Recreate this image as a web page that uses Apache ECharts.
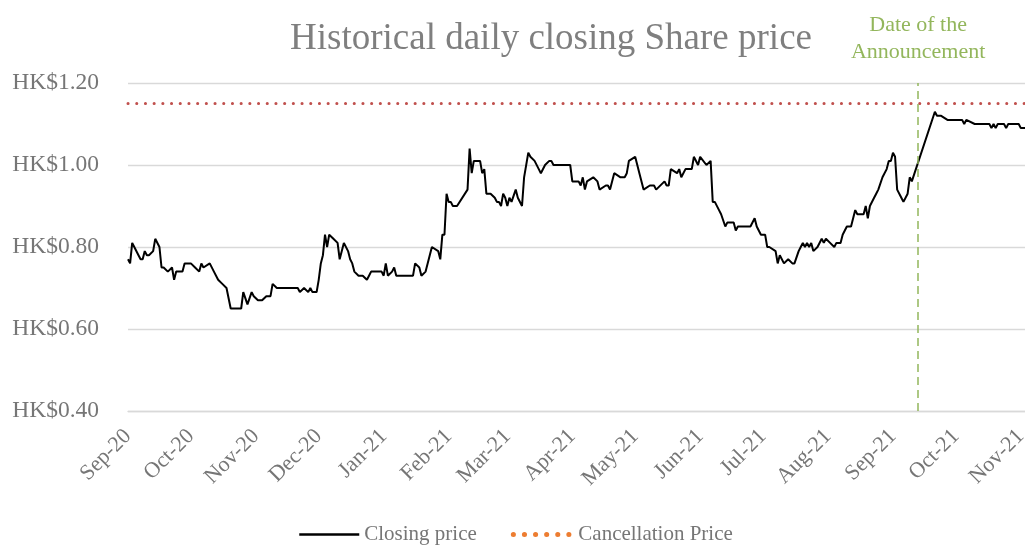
<!DOCTYPE html>
<html>
<head>
<meta charset="utf-8">
<script src="https://cdn.jsdelivr.net/npm/echarts@6/dist/echarts.min.js"></script>
<style>
html,body{margin:0;padding:0;background:#fff;}
#chart{width:1025px;height:545px;}
</style>
</head>
<body>
<div id="chart"></div>
<script>
// ---- data ----
const dates = [
'2020-09-01','2020-09-02','2020-09-03','2020-09-04','2020-09-06','2020-09-07','2020-09-08','2020-09-09','2020-09-10','2020-09-11',
'2020-09-13','2020-09-14','2020-09-16','2020-09-17','2020-09-18','2020-09-20','2020-09-22','2020-09-23','2020-09-24','2020-09-27',
'2020-09-28','2020-10-01','2020-10-03','2020-10-05','2020-10-06','2020-10-07','2020-10-10','2020-10-12','2020-10-14','2020-10-16',
'2020-10-18','2020-10-20','2020-10-25','2020-10-26','2020-10-28','2020-10-30','2020-10-31','2020-11-02','2020-11-04','2020-11-06',
'2020-11-08','2020-11-09','2020-11-11','2020-11-21','2020-11-22','2020-11-24','2020-11-26','2020-11-27','2020-11-28','2020-11-30',
'2020-12-01','2020-12-02','2020-12-03','2020-12-04','2020-12-05','2020-12-06','2020-12-08','2020-12-10','2020-12-11','2020-12-13',
'2020-12-15','2020-12-16','2020-12-17','2020-12-18','2020-12-20','2020-12-22','2020-12-24','2020-12-25','2020-12-26','2020-12-31',
'2021-01-01','2021-01-02','2021-01-03','2021-01-05','2021-01-06','2021-01-07','2021-01-15','2021-01-16','2021-01-18','2021-01-19',
'2021-01-21','2021-01-24','2021-01-27','2021-01-28','2021-01-29','2021-01-30','2021-01-31','2021-02-01','2021-02-02','2021-02-03',
'2021-02-04','2021-02-05','2021-02-10','2021-02-11','2021-02-12','2021-02-13','2021-02-16','2021-02-17','2021-02-18','2021-02-19',
'2021-02-21','2021-02-23','2021-02-24','2021-02-25','2021-02-26','2021-02-27','2021-02-28','2021-03-01','2021-03-02','2021-03-03',
'2021-03-05','2021-03-06','2021-03-08','2021-03-09','2021-03-11','2021-03-12','2021-03-14','2021-03-16','2021-03-17','2021-03-19',
'2021-03-21','2021-03-22','2021-03-23','2021-03-31','2021-04-01','2021-04-03','2021-04-04','2021-04-05','2021-04-06','2021-04-07',
'2021-04-08','2021-04-11','2021-04-13','2021-04-14','2021-04-17','2021-04-18','2021-04-19','2021-04-21','2021-04-24','2021-04-26',
'2021-04-27','2021-04-28','2021-05-01','2021-05-02','2021-05-03','2021-05-05','2021-05-08','2021-05-10','2021-05-11','2021-05-15',
'2021-05-16','2021-05-17','2021-05-18','2021-05-21','2021-05-22','2021-05-23','2021-05-25','2021-05-28','2021-05-29','2021-05-31',
'2021-06-01','2021-06-04','2021-06-06','2021-06-07','2021-06-08','2021-06-10','2021-06-11','2021-06-13','2021-06-14','2021-06-17',
'2021-06-18','2021-06-19','2021-06-25','2021-06-27','2021-06-28','2021-06-30','2021-07-02','2021-07-03','2021-07-04','2021-07-07',
'2021-07-08','2021-07-09','2021-07-11','2021-07-13','2021-07-15','2021-07-16','2021-07-18','2021-07-19','2021-07-20','2021-07-21',
'2021-07-22','2021-07-23','2021-07-24','2021-07-25','2021-07-27','2021-07-29','2021-07-30','2021-07-31','2021-08-02','2021-08-04',
'2021-08-05','2021-08-07','2021-08-08','2021-08-10','2021-08-12','2021-08-14','2021-08-15','2021-08-18','2021-08-19','2021-08-20',
'2021-08-21','2021-08-23','2021-08-24','2021-08-25','2021-08-27','2021-08-29','2021-08-30','2021-08-31','2021-09-01','2021-09-02',
'2021-09-03','2021-09-05','2021-09-06','2021-09-08','2021-09-09','2021-09-10','2021-09-21','2021-09-22','2021-09-24','2021-09-27',
'2021-10-04','2021-10-05','2021-10-06','2021-10-10','2021-10-17','2021-10-18','2021-10-19','2021-10-20','2021-10-21','2021-10-24',
'2021-10-25','2021-10-26','2021-10-31','2021-11-01','2021-11-03'
];
const closingPrices = [
0.77,0.76,0.81,0.80,0.78,0.77,0.77,0.79,0.78,0.78,
0.79,0.82,0.80,0.75,0.75,0.74,0.75,0.72,0.74,0.74,
0.76,0.76,0.75,0.74,0.76,0.75,0.76,0.74,0.72,0.71,
0.70,0.65,0.65,0.69,0.66,0.69,0.68,0.67,0.67,0.68,
0.68,0.71,0.70,0.70,0.69,0.70,0.69,0.70,0.69,0.69,
0.72,0.76,0.78,0.83,0.80,0.83,0.82,0.81,0.77,0.81,
0.79,0.77,0.76,0.74,0.73,0.73,0.72,0.73,0.74,0.74,
0.73,0.76,0.73,0.74,0.75,0.73,0.73,0.76,0.75,0.73,
0.74,0.80,0.79,0.77,0.83,0.83,0.93,0.91,0.91,0.90,
0.90,0.90,0.94,1.04,0.98,1.01,1.01,0.98,0.99,0.93,
0.93,0.92,0.91,0.91,0.90,0.93,0.92,0.90,0.92,0.91,
0.94,0.92,0.90,0.97,1.03,1.02,1.01,0.99,0.98,1.00,
1.01,1.01,1.00,1.00,0.96,0.96,0.96,0.95,0.97,0.94,
0.96,0.97,0.96,0.94,0.95,0.95,0.94,0.98,0.97,0.97,
0.98,1.01,1.02,1.00,0.98,0.94,0.95,0.95,0.94,0.96,
0.95,0.95,0.99,0.98,0.99,0.97,0.99,0.99,1.02,1.00,
1.02,1.00,1.01,0.91,0.91,0.89,0.88,0.85,0.86,0.86,
0.84,0.85,0.85,0.87,0.85,0.83,0.83,0.80,0.80,0.79,
0.76,0.78,0.76,0.77,0.76,0.76,0.79,0.80,0.81,0.80,
0.81,0.80,0.81,0.79,0.80,0.82,0.81,0.82,0.81,0.80,
0.81,0.81,0.83,0.85,0.85,0.89,0.88,0.88,0.90,0.87,
0.90,0.92,0.93,0.94,0.97,0.99,1.01,1.01,1.03,1.02,
0.94,0.92,0.91,0.93,0.97,0.96,1.13,1.12,1.12,1.11,
1.11,1.10,1.11,1.10,1.10,1.09,1.10,1.09,1.10,1.10,
1.09,1.10,1.10,1.09,1.09
];
const cancellationPrice = 1.15;
const announcementDate = '2021-09-13';
const axisStart = '2020-09-01';
const axisEnd = '2021-11-03';
const monthNames = ['Jan','Feb','Mar','Apr','May','Jun','Jul','Aug','Sep','Oct','Nov','Dec'];
const yMin = 0.4, yMax = 1.2, yStep = 0.2;

// ---- helpers ----
function toUTC(s){ const p = s.split('-').map(Number); return Date.UTC(p[0], p[1]-1, p[2]); }

const priceData = dates.map((d,i) => [toUTC(d), closingPrices[i]]);
const cancelData = [axisStart, axisEnd].map(d => [toUTC(d), cancellationPrice]);

const FONT = '"Liberation Serif", "Times New Roman", serif';
const GREY = '#767676';
const GREEN = '#93b65c';

const chart = echarts.init(document.getElementById('chart'), null, {renderer:'canvas'});
chart.setOption({
  useUTC: true,
  animation: false,
  backgroundColor: '#ffffff',
  title: {
    text: 'Historical daily closing Share price',
    left: 546, top: 16, textAlign: 'center',
    textStyle: { fontFamily: FONT, fontSize: 37, fontWeight: 'normal', color: '#7f7f7f' }
  },
  legend: {
    left: 298, top: 524, padding: 0,
    itemWidth: 60, itemHeight: 14, itemGap: 34,
    textStyle: { fontFamily: FONT, fontSize: 21, color: GREY },
    data: [
      { name: 'Closing price', lineStyle:{color:'#000', width:2.5}, itemStyle:{opacity:0} },
      { name: 'Cancellation Price', lineStyle:{ color:'#ED7D31', width:5, type:[0.1,11], cap:'round' }, itemStyle:{opacity:0} }
    ]
  },
  grid: { left: 128, right: 0, top: 83, bottom: 134, containLabel: false, outerBoundsMode: 'none' },
  xAxis: {
    type: 'time',
    min: toUTC(axisStart), max: toUTC(axisEnd),
    splitNumber: 14,
    minInterval: 28*864e5, maxInterval: 31*864e5,
    axisLine: { show: true, lineStyle: { color: '#d9d9d9', width: 1.3 } },
    axisTick: { show: false },
    splitLine: { show: false },
    axisLabel: {
      rotate: 45, margin: 22,
      fontFamily: FONT, fontSize: 22, color: GREY,
      showMinLabel: true, showMaxLabel: true, hideOverlap: false,
      formatter: function (value) {
        const d = new Date(value);
        if (d.getUTCDate() !== 1) return '';
        return monthNames[d.getUTCMonth()] + '-' + String(d.getUTCFullYear()).slice(2);
      }
    }
  },
  yAxis: {
    type: 'value', min: yMin, max: yMax, interval: yStep,
    axisLine: { show: false }, axisTick: { show: false },
    splitLine: { lineStyle: { color: '#d9d9d9', width: 1.3 } },
    axisLabel: {
      margin: 29, fontFamily: FONT, fontSize: 23.5, color: GREY,
      formatter: v => 'HK$' + v.toFixed(2)
    }
  },
  series: [
    {
      name: 'Closing price', type: 'line', data: priceData,
      showSymbol: false, symbol: 'none',
      lineStyle: { color: '#000000', width: 2 },
      itemStyle: { color: '#000000' },
      z: 3,
      markLine: {
        silent: true, symbol: ['none','none'],
        lineStyle: { color: GREEN, type: [8,5], width: 1.5 },
        label: {
          show: true, position: 'end', distance: 17,
          formatter: 'Date of the\nAnnouncement',
          fontFamily: FONT, fontSize: 22, lineHeight: 27, color: GREEN
        },
        data: [ { xAxis: toUTC(announcementDate) } ]
      }
    },
    {
      name: 'Cancellation Price', type: 'line', data: cancelData,
      showSymbol: false, symbol: 'none',
      lineStyle: { color: '#C0504D', width: 3, type: [0.1, 8.6], cap: 'round' },
      itemStyle: { color: '#C0504D' },
      z: 2
    }
  ]
});
</script>
</body>
</html>
